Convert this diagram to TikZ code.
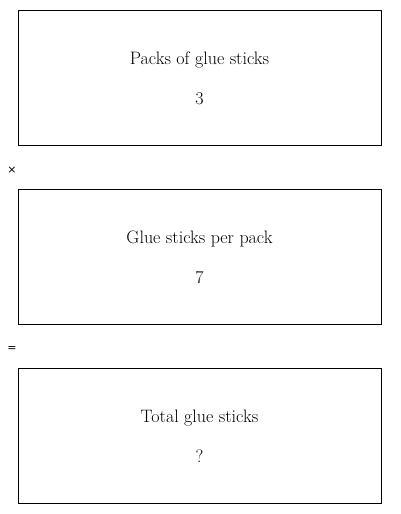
\documentclass[tikz,border=0pt]{standalone}
\usepackage{fontspec}
\newfontfamily\symfont{DejaVu Sans}
\usepackage{tikz}
\usetikzlibrary{positioning}

\begin{document}
\begin{tikzpicture}[x=1pt, y=1pt,
        qbox/.style={draw, line width=0.9pt, minimum width=363pt, minimum height=135pt, inner sep=0pt},
        qtext/.style={font=\fontsize{18}{21}\selectfont, inner sep=0pt, anchor=base},
        qsym/.style={font=\symfont\fontsize{11}{13}\selectfont, inner sep=0pt}]
        \useasboundingbox (0,0) rectangle (400,-514);

        \node[qbox] (packs) at (199.5,-77.5) {};
        \node[qbox] (per) at (199.5,-256.5) {};
        \node[qbox] (total) at (199.5,-435.5) {};

        \node[qtext] (packsT) at (199.5,-64.5) {Packs of glue sticks};
        \node[qtext] (packsV) at (199.5,-104) {3};
        \node[qtext] (perT) at (199.5,-243.5) {Glue sticks per pack};
        \node[qtext] (perV) at (199.5,-283) {7};
        \node[qtext] (totalT) at (199.5,-422.5) {Total glue sticks};
        \node[qtext] (totalV) at (199.5,-462) {?};

        \node[qsym] (times) at (12,-170) {×};
        \node[qsym] (equals) at (12,-349) {=};
    \end{tikzpicture}
\end{document}
